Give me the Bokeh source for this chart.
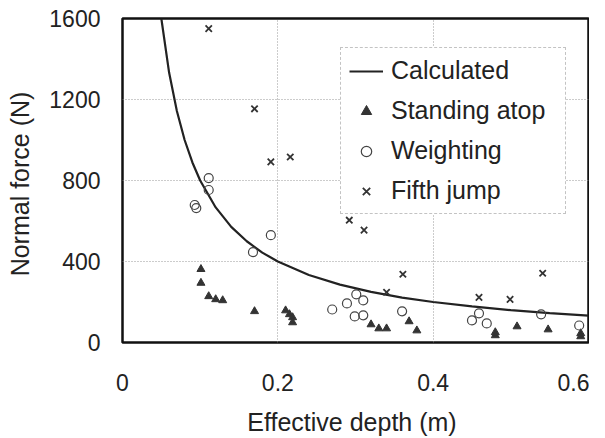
from bokeh.plotting import figure
from bokeh.models import Legend, LegendItem, FixedTicker
from bokeh.embed import file_html
from bokeh.resources import INLINE

# ---- data ----
calc_depth = [0.05, 0.06, 0.07, 0.08, 0.09, 0.10, 0.12, 0.14, 0.16, 0.18, 0.20,
              0.24, 0.28, 0.32, 0.36, 0.40, 0.45, 0.50, 0.55, 0.60]
calc_force = [1600, 1333, 1143, 1000, 889, 800, 667, 571, 500, 444, 400,
              333, 286, 250, 222, 200, 178, 160, 145, 133]

stand_depth = [0.101, 0.101, 0.111, 0.120, 0.129, 0.170, 0.210, 0.215, 0.219, 0.219,
               0.320, 0.330, 0.340, 0.369, 0.379, 0.480, 0.480, 0.508, 0.548, 0.590, 0.590]
stand_force = [362, 294, 228, 213, 208, 154, 158, 139, 124, 99,
               89, 69, 69, 104, 59, 35, 50, 79, 64, 45, 30]

weight_depth = [0.111, 0.111, 0.093, 0.095, 0.191, 0.168, 0.270, 0.289, 0.301, 0.310,
                0.299, 0.310, 0.360, 0.450, 0.459, 0.469, 0.539, 0.588]
weight_force = [812, 753, 679, 664, 530, 446, 163, 193, 238, 208,
                129, 134, 154, 109, 144, 94, 139, 84]

jump_depth = [0.111, 0.170, 0.191, 0.216, 0.292, 0.311, 0.361, 0.340, 0.459, 0.499, 0.541]
jump_force = [1550, 1154, 892, 916, 604, 555, 337, 248, 223, 213, 342]

x_ticks = [0, 0.2, 0.4, 0.6]
x_tick_labels = ["0", "0.2", "0.4", "0.6"]
y_ticks = [0, 400, 800, 1200, 1600]

FONT = "Liberation Sans"
TXT = "#222222"

p = figure(width=589, height=438, x_range=(0, 0.6), y_range=(0, 1600),
           output_backend="svg", toolbar_location=None,
           min_border_left=122, min_border_right=1, min_border_top=18,
           min_border_bottom=96)
p.background_fill_color = "white"
p.border_fill_color = "white"
p.outline_line_color = "#111111"
p.outline_line_width = 2.5

# grid
for g in (p.xgrid, p.ygrid):
    g.grid_line_color = "#999999"
    g.grid_line_dash = "1 2"
    g.grid_line_width = 1
p.xgrid.ticker = FixedTicker(ticks=x_ticks)
p.ygrid.ticker = FixedTicker(ticks=y_ticks)

# axes
p.xaxis.ticker = FixedTicker(ticks=x_ticks)
p.yaxis.ticker = FixedTicker(ticks=y_ticks)
p.xaxis.major_label_overrides = {t: s for t, s in zip(x_ticks, x_tick_labels)}
for ax in (p.xaxis, p.yaxis):
    ax.axis_line_color = None
    ax.major_tick_line_color = None
    ax.minor_tick_line_color = None
    ax.major_tick_out = 0
    ax.major_tick_in = 0
    ax.major_label_text_font = FONT
    ax.major_label_text_font_size = "23px"
    ax.major_label_text_color = TXT
    ax.axis_label_text_font = FONT
    ax.axis_label_text_font_size = "25px"
    ax.axis_label_text_font_style = "normal"
    ax.axis_label_text_color = TXT
p.xaxis.major_label_standoff = 31
p.xaxis.axis_label_standoff = 14
p.yaxis.major_label_standoff = 22
p.yaxis.axis_label_standoff = 12
p.xaxis.axis_label = "Effective depth  (m)"
p.yaxis.axis_label = "Normal force  (N)"

# glyphs
r_calc = p.line(calc_depth, calc_force, line_color="#222222", line_width=2.2)
r_stand = p.scatter(stand_depth, stand_force, marker="triangle", size=8,
                    fill_color="#333333", line_color="#333333", line_width=1)
r_weight = p.scatter(weight_depth, weight_force, marker="circle", size=9,
                     fill_color=None, line_color="#444444", line_width=1.2)
r_jump = p.scatter(jump_depth, jump_force, marker="x", size=9,
                   line_color="#333333", line_width=1.8)

legend = Legend(items=[
    LegendItem(label="Calculated", renderers=[r_calc]),
    LegendItem(label="Standing atop", renderers=[r_stand]),
    LegendItem(label="Weighting", renderers=[r_weight]),
    LegendItem(label="Fifth jump", renderers=[r_jump]),
], location=(218, 128))
legend.label_text_font = FONT
legend.label_text_font_size = "25px"
legend.label_text_color = TXT
legend.padding = 8
legend.spacing = 11
legend.glyph_height = 26
legend.glyph_width = 34
legend.label_height = 26
legend.label_width = 166
legend.label_standoff = 8
legend.border_line_color = "#888888"
legend.border_line_dash = "1 2"
legend.border_line_width = 1
legend.background_fill_color = "white"
legend.background_fill_alpha = 1.0
legend.margin = 0
p.add_layout(legend, "center")

open("out.html", "w").write(file_html(p, INLINE))
